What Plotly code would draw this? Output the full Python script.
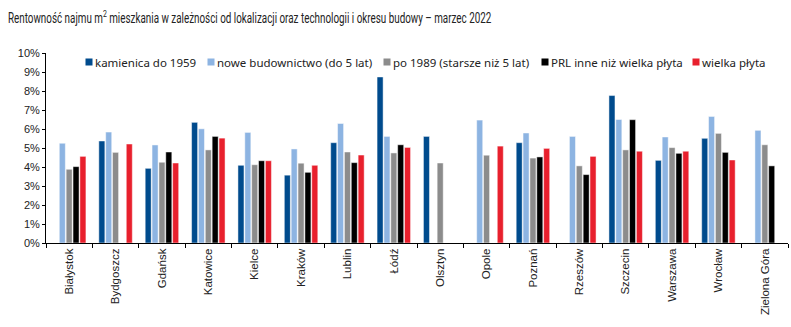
import plotly.graph_objects as go

cities = ["Białystok", "Bydgoszcz", "Gdańsk", "Katowice", "Kielce", "Kraków", "Lublin", "Łódź",
          "Olsztyn", "Opole", "Poznań", "Rzeszów", "Szczecin", "Warszawa", "Wrocław", "Zielona Góra"]

kamienica = [None, 5.37, 3.93, 6.35, 4.09, 3.57, 5.28, 8.74, 5.61, None, 5.28, None, 7.76, 4.35, 5.51, None]
nowe = [5.25, 5.84, 5.16, 6.01, 5.82, 4.95, 6.29, 5.61, None, 6.47, 5.79, 5.61, 6.50, 5.58, 6.66, 5.93]
po1989 = [3.88, 4.77, 4.25, 4.90, 4.12, 4.20, 4.79, 4.74, 4.21, 4.62, 4.47, 4.06, 4.90, 5.02, 5.77, 5.17]
prl = [4.02, None, 4.79, 5.61, 4.33, 3.72, 4.23, 5.17, None, None, 4.53, 3.60, 6.49, 4.72, 4.77, 4.06]
wielka = [4.56, 5.21, 4.21, 5.52, 4.33, 4.09, 4.63, 5.03, None, 5.10, 4.98, 4.56, 4.83, 4.83, 4.37, None]

series_names = ["kamienica do 1959", "nowe budownictwo (do 5 lat)", "po 1989 (starsze niż 5 lat)",
                "PRL inne niż wielka płyta", "wielka płyta"]
series_values = [kamienica, nowe, po1989, prl, wielka]
series_colors = ["#004B8D", "#8DB4E2", "#8C8C8C", "#000000", "#E8202D"]

# legend text start positions in pixels (layout only)
legend_text_px = [95, 217, 393, 551, 702]

W, H = 791, 327
ML, MR, MT, MB = 46, 3, 53, 84
PW = W - ML - MR
PH = H - MT - MB

fig = go.Figure()
layout_legends = {}
for i, (name, vals, col) in enumerate(zip(series_names, series_values, series_colors)):
    lg = "legend" if i == 0 else f"legend{i+1}"
    fig.add_trace(go.Bar(
        x=cities, y=[v / 100 if v is not None else None for v in vals], name=name,
        marker=dict(color=col, line=dict(color="rgba(255,255,255,0.6)", width=0.8)),
        showlegend=False,
    ))
    fig.add_trace(go.Scatter(
        x=[None], y=[None], mode="markers", name=name, legend=lg,
        marker=dict(symbol="square", size=7, color=col), showlegend=True,
    ))
    left_px = legend_text_px[i] - 40
    layout_legends[lg] = dict(
        x=(left_px - ML) / PW, xanchor="left",
        y=1 - (62 - MT) / PH, yanchor="middle",
        orientation="h", itemwidth=30, borderwidth=0,
        bgcolor="rgba(0,0,0,0)",
        font=dict(family="Noto Sans", size=11.5, color="#222222"),
    )

fig.update_layout(
    width=W, height=H,
    margin=dict(l=ML, r=MR, t=MT, b=MB),
    paper_bgcolor="white", plot_bgcolor="white",
    barmode="group", bargap=0.26, bargroupgap=0.12,
    title=dict(text="Rentowność najmu m<sup>2</sup> mieszkania w zależności od lokalizacji oraz technologii i okresu budowy – marzec 2022",
               x=8 / W, xanchor="left", y=1 - 18 / H, yanchor="middle",
               font=dict(family="Roboto", size=14, color="#222222")),
    font=dict(family="Liberation Sans", size=11, color="#222222"),
    showlegend=True,
    **layout_legends,
)
fig.update_yaxes(range=[0, 0.1], dtick=0.01, tickformat=".0%", showgrid=False,
                 showline=True, linecolor="black", linewidth=1,
                 ticks="outside", ticklen=3, tickcolor="black", zeroline=False,
                 tickfont=dict(family="Liberation Sans", size=11, color="#222222"))
fig.update_xaxes(showline=True, linecolor="black", linewidth=1, ticks="outside",
                 tickson="boundaries", ticklen=4, tickcolor="black", tickangle=-90,
                 showgrid=False,
                 tickfont=dict(family="Liberation Sans", size=11.5, color="#222222"))

post = """
var gd = document.getElementById('{plot_id}');
function fixup(){
  var t = gd.querySelector('.gtitle');
  if (t) {
    var bb = t.getBBox();
    var target = 484;
    var s = Math.min(1, target / bb.width);
    var x0 = bb.x;
    t.setAttribute('transform', 'translate(' + (x0 * (1 - s)) + ',0) scale(' + s + ',1)');
  }
  gd.querySelectorAll('.legendpoints').forEach(function(p){ p.setAttribute('transform', 'translate(14,0)'); });
}
fixup();
gd.on('plotly_afterplot', fixup);
"""
fig.write_html("out.html", post_script=post)
